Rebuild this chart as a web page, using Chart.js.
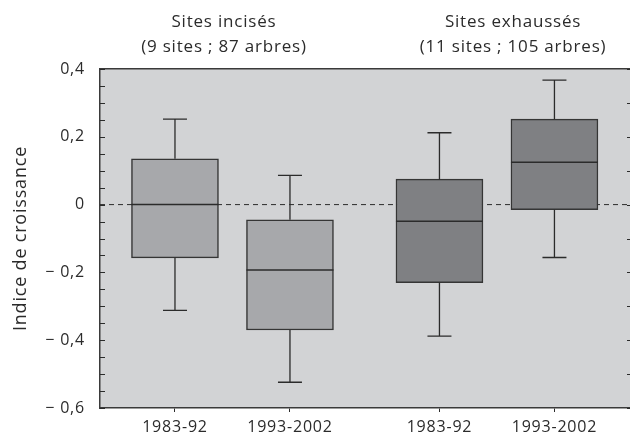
<!DOCTYPE html>
<html lang="fr">
<head>
    <meta charset="UTF-8">
    <title>Indice de croissance</title>
    <script src="https://cdn.jsdelivr.net/npm/chart.js"></script>
    <style>
        body { margin: 0; background: #fff; }
    </style>
</head>
<body>
    <canvas id="boxChart" width="630" height="439"></canvas>
    <script>
        // valeurs
        const periods = ['1983-92', '1993-2002', '1983-92', '1993-2002'];
        const positions = [1, 2, 3.3, 4.3];
        const whiskerLow = [-0.312, -0.524, -0.388, -0.156];
        const q1 = [-0.157, -0.370, -0.230, -0.015];
        const median = [0.0, -0.193, -0.049, 0.125];
        const q3 = [0.135, -0.045, 0.075, 0.252];
        const whiskerHigh = [0.252, 0.086, 0.212, 0.367];
        const groups = ['Sites incisés', 'Sites exhaussés'];
        const groupNotes = ['(9 sites ; 87 arbres)', '(11 sites ; 105 arbres)'];
        const boxColors = ['#a7a8ab', '#a7a8ab', '#7f8083', '#7f8083'];

        const FONT = "'Open Sans', 'Noto Sans', sans-serif";
        const INK = '#2b2b2b';

        function fmt(v) {
            if (Math.abs(v) < 1e-9) return '0';
            const s = Math.abs(v).toFixed(1).replace('.', ',');
            return v < 0 ? '\u2212 ' + s : s;
        }

        const boxPlugin = {
            id: 'boxPlugin',
            beforeDraw(chart) {
                const { ctx, chartArea: a } = chart;
                // le texte de la figure est un peu espacé
                ctx.letterSpacing = '0.8px';
                ctx.save();
                ctx.fillStyle = '#d2d3d5';
                ctx.fillRect(a.left, a.top, a.right - a.left, a.bottom - a.top);
                ctx.restore();
            },
            beforeDatasetsDraw(chart) {
                const { ctx, chartArea: a, scales } = chart;
                const y0 = scales.y.getPixelForValue(0);
                ctx.save();
                ctx.strokeStyle = INK;
                ctx.lineWidth = 1;
                ctx.setLineDash([5, 4]);
                ctx.beginPath();
                ctx.moveTo(a.left, y0);
                ctx.lineTo(a.right, y0);
                ctx.stroke();
                ctx.restore();
            },
            afterDatasetsDraw(chart) {
                const { ctx, scales } = chart;
                const meta = chart.getDatasetMeta(0);
                ctx.save();
                ctx.strokeStyle = INK;
                positions.forEach((p, i) => {
                    const x = scales.x.getPixelForValue(p);
                    const bar = meta.data[i];
                    const half = bar.width / 2;
                    const yHi = scales.y.getPixelForValue(whiskerHigh[i]);
                    const yLo = scales.y.getPixelForValue(whiskerLow[i]);
                    const yQ1 = scales.y.getPixelForValue(q1[i]);
                    const yQ3 = scales.y.getPixelForValue(q3[i]);
                    const yMed = scales.y.getPixelForValue(median[i]);
                    ctx.lineWidth = 1.3;
                    ctx.beginPath();
                    ctx.moveTo(x, yQ3); ctx.lineTo(x, yHi);
                    ctx.moveTo(x - 12, yHi); ctx.lineTo(x + 12, yHi);
                    ctx.moveTo(x, yQ1); ctx.lineTo(x, yLo);
                    ctx.moveTo(x - 12, yLo); ctx.lineTo(x + 12, yLo);
                    ctx.stroke();
                    ctx.lineWidth = 1.5;
                    ctx.beginPath();
                    ctx.moveTo(bar.x - half, yMed);
                    ctx.lineTo(bar.x + half, yMed);
                    ctx.stroke();
                });
                ctx.restore();
            },
            afterDraw(chart) {
                // petites graduations tournées vers l'intérieur
                const { ctx, chartArea: a, scales } = chart;
                ctx.save();
                ctx.strokeStyle = INK;
                ctx.lineWidth = 1;
                scales.y.ticks.forEach(t => {
                    const y = Math.round(scales.y.getPixelForValue(t.value)) + 0.5;
                    ctx.beginPath();
                    ctx.moveTo(a.left, y);
                    ctx.lineTo(a.left + 5, y);
                    const tenth = t.value / 0.1;
                    if (Math.abs(tenth - Math.round(tenth)) < 1e-6) {
                        ctx.moveTo(a.right, y);
                        ctx.lineTo(a.right - 3, y);
                    }
                    ctx.stroke();
                });
                ctx.restore();
            }
        };

        const ctx = document.getElementById('boxChart').getContext('2d');
        new Chart(ctx, {
            type: 'bar',
            data: {
                datasets: [{
                    data: positions.map((p, i) => ({ x: p, y: [q1[i], q3[i]] })),
                    backgroundColor: boxColors,
                    borderColor: '#353535',
                    borderWidth: 1.5,
                    borderSkipped: false,
                    barThickness: 87
                }]
            },
            options: {
                responsive: false,
                animation: false,
                layout: { padding: 0 },
                plugins: {
                    legend: { display: false },
                    tooltip: { enabled: false }
                },
                scales: {
                    x: {
                        type: 'linear',
                        position: 'bottom',
                        offset: false,
                        min: 0.348,
                        max: 4.957,
                        afterBuildTicks: s => { s.ticks = positions.map(v => ({ value: v })); },
                        afterFit: s => { s.height = 31; },
                        ticks: {
                            autoSkip: false,
                            maxRotation: 0,
                            padding: 6,
                            color: INK,
                            font: { family: FONT, size: 16 },
                            callback: (v, i) => periods[i]
                        },
                        grid: { display: true, offset: false, drawOnChartArea: false, drawTicks: true, tickLength: 4, color: INK, lineWidth: 1 },
                        border: { display: true, color: '#3a3a3a', width: 1.5 }
                    },
                    x2: {
                        type: 'linear',
                        position: 'top',
                        offset: false,
                        min: 0.348,
                        max: 4.957,
                        afterBuildTicks: s => { s.ticks = [{ value: 1.426 }, { value: 3.94 }]; },
                        afterFit: s => { s.height = 69; },
                        ticks: {
                            autoSkip: false,
                            maxRotation: 0,
                            padding: 10,
                            color: INK,
                            font: { family: FONT, size: 17, lineHeight: 1.45 },
                            callback: (v, i) => [groups[i], groupNotes[i]]
                        },
                        grid: { display: false, offset: false, drawTicks: false },
                        border: { display: true, color: '#3a3a3a', width: 1.5 }
                    },
                    y: {
                        min: -0.6,
                        max: 0.4,
                        afterBuildTicks: s => {
                            const t = [];
                            for (let k = -12; k <= 8; k++) t.push({ value: k * 0.05 });
                            s.ticks = t;
                        },
                        afterFit: s => { s.width = 100; },
                        ticks: {
                            autoSkip: false,
                            padding: 15,
                            color: INK,
                            font: { family: FONT, size: 16 },
                            callback: v => {
                                const r = v / 0.2;
                                return Math.abs(r - Math.round(r)) < 1e-6 ? fmt(v) : '';
                            }
                        },
                        grid: { display: false, drawTicks: false },
                        border: { display: true, color: '#3a3a3a', width: 1.5 },
                        title: {
                            display: true,
                            text: 'Indice de croissance',
                            color: INK,
                            font: { family: FONT, size: 18 },
                            padding: { top: 10, bottom: 0 }
                        }
                    }
                }
            },
            plugins: [boxPlugin]
        });
    </script>
</body>
</html>
